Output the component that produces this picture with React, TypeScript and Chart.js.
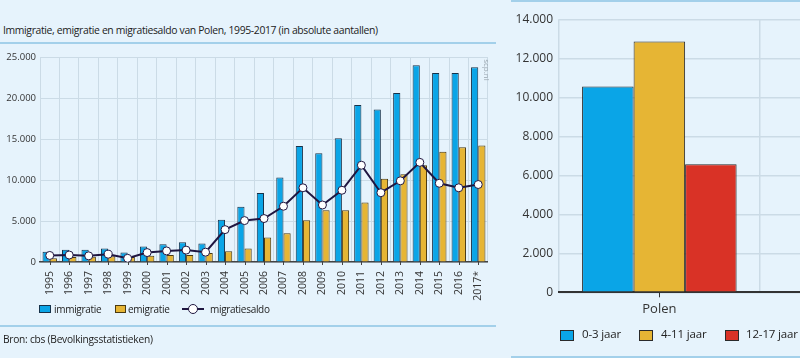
import React, { useEffect, useRef } from 'react';
import { Chart, registerables } from 'chart.js';
Chart.register(...registerables);

// ---------- data: left chart ----------
const years = ['1995','1996','1997','1998','1999','2000','2001','2002','2003','2004','2005','2006','2007','2008','2009','2010','2011','2012','2013','2014','2015','2016','2017*'];
const immigratie = [1250,1500,1500,1650,1150,1900,2150,2400,2250,5150,6750,8400,10300,14150,13250,15100,19150,18600,20600,24000,23050,23050,23750];
const emigratie = [450,600,650,700,600,750,850,850,1100,1300,1650,3000,3500,5100,6300,6300,7250,10150,10700,11800,13450,14000,14200];
const migratiesaldo = [800,850,750,950,450,1150,1350,1450,1200,3950,5050,5300,6800,9050,6950,8750,11800,8450,9900,12150,9600,9050,9450];
const leftTicks = [0, 5000, 10000, 15000, 20000, 25000];

// ---------- data: right chart ----------
const landen = ['Polen', ''];
const jaar0_3 = [10550, null];
const jaar4_11 = [12860, null];
const jaar12_17 = [6570, null];
const rightTicks = [0, 2000, 4000, 6000, 8000, 10000, 12000, 14000];

const BLUE = '#0aa5e7';
const YELLOW = '#e6b534';
const RED = '#d93226';
const NAVY = '#1f1640';
const BG = '#e6f3fc';
const GRID = '#cbdbe6';
const FONT = "'Open Sans', sans-serif";

const fmt = (v: number) => String(v).replace(/\B(?=(\d{3})+(?!\d))/g, '.');

const centerTicks = (len: number, color: string) => ({
  id: 'centerTicks',
  afterDraw(chart: any) {
    const xs = chart.scales.x;
    const ctx = chart.ctx;
    ctx.save();
    ctx.strokeStyle = color;
    ctx.lineWidth = 1;
    chart.data.labels.forEach((l: string, i: number) => {
      if (!l) return;
      const x = Math.round(xs.getPixelForValue(i)) + 0.5;
      ctx.beginPath();
      ctx.moveTo(x, chart.chartArea.bottom);
      ctx.lineTo(x, chart.chartArea.bottom + len);
      ctx.stroke();
    });
    ctx.restore();
  },
});

function LeftChart() {
  const ref = useRef<HTMLCanvasElement>(null);
  useEffect(() => {
    const chart = new Chart(ref.current!, {
      type: 'bar',
      data: {
        labels: years,
        datasets: [
          {
            type: 'line', label: 'migratiesaldo', data: migratiesaldo, order: 0,
            borderColor: NAVY, borderWidth: 2, pointRadius: 4, pointBackgroundColor: '#ffffff',
            pointBorderColor: NAVY, pointBorderWidth: 1, tension: 0,
          } as any,
          { label: 'immigratie', data: immigratie, backgroundColor: BLUE, borderColor: '#17324a', borderWidth: 1, order: 1, categoryPercentage: 0.74, barPercentage: 1 },
          { label: 'emigratie', data: emigratie, backgroundColor: YELLOW, borderColor: '#4a3a12', borderWidth: 1, order: 1, categoryPercentage: 0.74, barPercentage: 1 },
        ],
      },
      options: {
        responsive: false, animation: false,
        layout: { padding: { left: 0, right: 7, top: 57, bottom: 56 } },
        plugins: { legend: { display: false }, tooltip: { enabled: false } },
        scales: {
          x: {
            grid: { color: GRID, drawTicks: false, offset: true },
            border: { color: '#444', width: 1.5 },
            ticks: { minRotation: 90, maxRotation: 90, autoSkip: false, padding: 9, color: '#333', font: { family: FONT, size: 10.5 } },
            afterFit: (s: any) => { s.height = 40; },
          },
          y: {
            min: 0, max: 25000,
            afterBuildTicks: (s: any) => { s.ticks = leftTicks.map((v) => ({ value: v })); },
            grid: { color: GRID, drawTicks: false },
            border: { display: false },
            ticks: { padding: 4, color: '#333', font: { family: FONT, size: 9.5 }, callback: (v: any) => fmt(v) },
            afterFit: (s: any) => { s.width = 40; },
          },
        },
      },
      plugins: [centerTicks(3, '#444')],
    });
    return () => chart.destroy();
  }, []);
  return <canvas ref={ref} width={500} height={358} style={{ position: 'absolute', left: 0, top: 0 }} />;
}

function RightChart() {
  const ref = useRef<HTMLCanvasElement>(null);
  useEffect(() => {
    const ds = (label: string, data: any[], color: string) => ({
      label, data, backgroundColor: color, borderColor: '#2a2a2a', borderWidth: 1,
      categoryPercentage: 0.77, barPercentage: 1,
    });
    const chart = new Chart(ref.current!, {
      type: 'bar',
      data: {
        labels: landen,
        datasets: [ds('0-3 jaar', jaar0_3, BLUE), ds('4-11 jaar', jaar4_11, YELLOW), ds('12-17 jaar', jaar12_17, RED)],
      },
      options: {
        responsive: false, animation: false,
        layout: { padding: { left: 0, right: 9.6, top: 19.3, bottom: 35.7 } },
        plugins: { legend: { display: false }, tooltip: { enabled: false } },
        scales: {
          x: {
            grid: { color: GRID, drawTicks: false, offset: true, lineWidth: 1.5 },
            border: { color: '#333', width: 2 },
            ticks: { padding: 9, color: '#333', font: { family: FONT, size: 13 } },
            afterFit: (s: any) => { s.height = 30; },
          },
          y: {
            min: 0, max: 14000,
            afterBuildTicks: (s: any) => { s.ticks = rightTicks.map((v) => ({ value: v })); },
            grid: { color: GRID, drawTicks: false, lineWidth: 1.5 },
            border: { display: false },
            ticks: { padding: 6, color: '#333', font: { family: FONT, size: 12 }, callback: (v: any) => fmt(v) },
            afterFit: (s: any) => { s.width = 59; },
          },
        },
      },
      plugins: [centerTicks(5, '#333')],
    });
    return () => chart.destroy();
  }, []);
  return <canvas ref={ref} width={470} height={358} style={{ position: 'absolute', left: 500, top: 0 }} />;
}

const abs = (o: any): React.CSSProperties => ({ position: 'absolute', ...o });
const txt: React.CSSProperties = { fontFamily: FONT, color: '#222', whiteSpace: 'nowrap', lineHeight: 1 };

export default function App() {
  return (
    <div style={{ position: 'fixed', left: 0, top: 0, width: 800, height: 358, overflow: 'hidden', background: BG }}>
      <div style={{ ...txt, ...abs({ left: 3, top: 25, fontSize: 10.4, letterSpacing: -0.35 }) }}>
        Immigratie, emigratie en migratiesaldo van Polen, 1995-2017 (in absolute aantallen)
      </div>
      <div style={abs({ left: 0, top: 42, width: 496, height: 2, background: '#a3d0ea' })} />
      <LeftChart />
      <div style={{ ...txt, ...abs({ left: 476, top: 66, fontSize: 8, color: '#98a4ad', transform: 'rotate(90deg)' }) }}>scp.nl</div>
      {/* left legend */}
      <div style={abs({ left: 39, top: 305, width: 10, height: 6, background: BLUE, border: '1px solid #17324a' })} />
      <div style={{ ...txt, ...abs({ left: 54, top: 303.5, fontSize: 10, letterSpacing: -0.3 }) }}>immigratie</div>
      <div style={abs({ left: 115, top: 305, width: 9, height: 6, background: YELLOW, border: '1px solid #4a3a12' })} />
      <div style={{ ...txt, ...abs({ left: 128, top: 303.5, fontSize: 10, letterSpacing: -0.3 }) }}>emigratie</div>
      <div style={abs({ left: 182, top: 308, width: 22, height: 2, background: NAVY })} />
      <div style={abs({ left: 188, top: 304, width: 8, height: 8, borderRadius: 5, background: '#fff', border: '1px solid ' + NAVY })} />
      <div style={{ ...txt, ...abs({ left: 210, top: 303.5, fontSize: 10, letterSpacing: -0.3 }) }}>migratiesaldo</div>
      <div style={abs({ left: 0, top: 325, width: 496, height: 2, background: '#a3d0ea' })} />
      <div style={{ ...txt, ...abs({ left: 3, top: 334, fontSize: 10.2, letterSpacing: -0.25 }) }}>Bron: cbs (Bevolkingsstatistieken)</div>

      <RightChart />
      <div style={abs({ left: 511, top: 0, width: 300, height: 2, background: '#a3d0ea' })} />
      <div style={abs({ left: 511, top: 356, width: 300, height: 2, background: '#a3d0ea' })} />
      {/* right legend */}
      <div style={abs({ left: 560, top: 330, width: 12, height: 9, background: BLUE, border: '1px solid #2a2a2a' })} />
      <div style={{ ...txt, ...abs({ left: 582, top: 328, fontSize: 11.5, letterSpacing: -0.15 }) }}>0-3 jaar</div>
      <div style={abs({ left: 639, top: 330, width: 12, height: 9, background: YELLOW, border: '1px solid #2a2a2a' })} />
      <div style={{ ...txt, ...abs({ left: 661, top: 328, fontSize: 11.5, letterSpacing: -0.15 }) }}>4-11 jaar</div>
      <div style={abs({ left: 725, top: 330, width: 12, height: 9, background: RED, border: '1px solid #2a2a2a' })} />
      <div style={{ ...txt, ...abs({ left: 746, top: 328, fontSize: 11.5, letterSpacing: -0.15 }) }}>12-17 jaar</div>
    </div>
  );
}
